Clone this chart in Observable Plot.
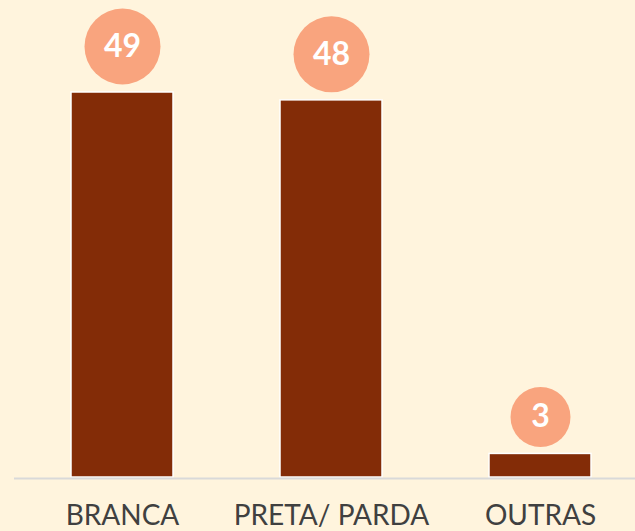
<!DOCTYPE html>
<html>
<head>
<meta charset="utf-8">
<script src="https://cdn.jsdelivr.net/npm/d3@7"></script>
<script src="https://cdn.jsdelivr.net/npm/@observablehq/plot@0.6"></script>
<style>
  html, body { margin: 0; padding: 0; background: #FFF4DD; overflow: hidden; }
  #chart svg { display: block; }
</style>
</head>
<body>
<div id="chart"></div>
<script>
const categories = ["BRANCA", "PRETA/ PARDA", "OUTRAS"];
const values = [49, 48, 3];

const data = categories.map((c, i) => ({ cat: c, value: values[i] }));
const big = data.filter(d => d.value >= 10);
const small = data.filter(d => d.value < 10);

const chart = Plot.plot({
  width: 635,
  height: 531,
  marginTop: 92,
  marginBottom: 54,
  marginLeft: 14,
  marginRight: 0,
  style: { background: "transparent", fontFamily: "Lato, 'Open Sans', sans-serif" },
  x: { domain: categories, paddingInner: 0.51, paddingOuter: 0.2336, align: 0.571, label: null },
  y: { domain: [0, 49], axis: null },
  marks: [
    Plot.barY(data, { x: "cat", y: "value", fill: "#832C07", stroke: "#ffffff", strokeWidth: 1.5 }),
    Plot.ruleY([0], { stroke: "#d9d9d9", strokeWidth: 2, dy: 1 }),
    Plot.axisX({ tickSize: 0, tickPadding: 28, fontSize: 28, fill: "#404040", label: null }),
    Plot.dot(big, { x: "cat", y: "value", r: 38, dy: -46, fill: "#F9A47E", stroke: "none" }),
    Plot.dot(small, { x: "cat", y: "value", r: 30, dy: -37, fill: "#F9A47E", stroke: "none" }),
    Plot.text(big, { x: "cat", y: "value", text: d => String(d.value), dy: -46, fill: "#ffffff", fontSize: 32, fontWeight: "bold" }),
    Plot.text(small, { x: "cat", y: "value", text: d => String(d.value), dy: -37, fill: "#ffffff", fontSize: 32, fontWeight: "bold" })
  ]
});
document.getElementById("chart").append(chart);
</script>
</body>
</html>
